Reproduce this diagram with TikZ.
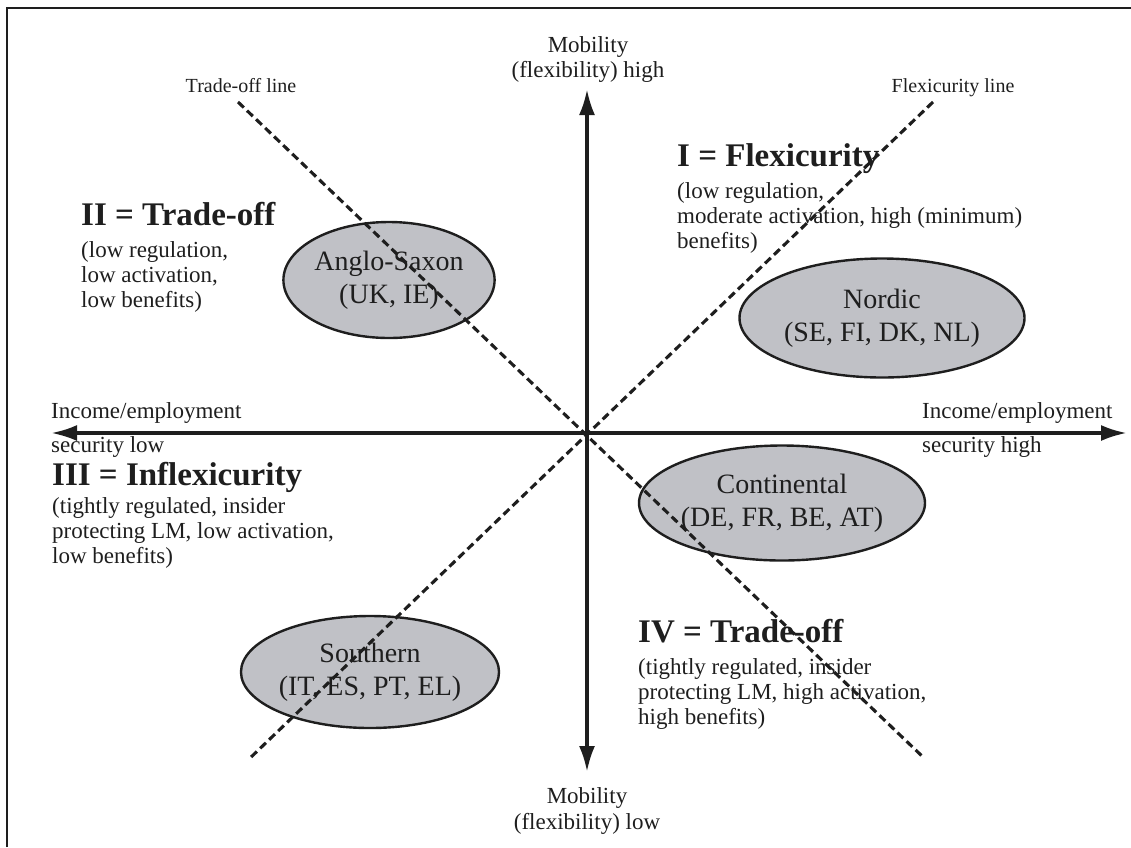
\documentclass[tikz,border=0pt]{standalone}
\usepackage{fontspec}
\setmainfont{Liberation Serif}
\usetikzlibrary{arrows.meta,shapes.geometric}
\definecolor{ellfill}{RGB}{192,193,198}
\definecolor{ink}{RGB}{30,30,30}
\begin{document}
\begin{tikzpicture}[x=1pt,y=-1pt,
  txt/.style={inner sep=0pt, font=\fontsize{23}{25}\selectfont, text=ink},
  small/.style={inner sep=0pt, font=\fontsize{20}{22}\selectfont, text=ink},
  head/.style={inner sep=0pt, font=\fontsize{33}{36}\selectfont\bfseries, text=ink},
  axis/.style={line width=3.6pt, draw=ink, {Latex[length=26pt,width=16pt]}-{Latex[length=26pt,width=16pt]}},
  guide/.style={line width=3.1pt, dash pattern=on 8pt off 4.5pt, draw=ink},
  cluster/.style={ellipse, draw=ink, line width=2.4pt, fill=ellfill, inner sep=0pt, align=center, font=\fontsize{28}{33}\selectfont, text=ink},
]
\useasboundingbox (0,0) rectangle (1131,847);
% frame
\coordinate (fa) at (7,847);
\coordinate (fb) at (7,8);
\coordinate (fc) at (1131,8);
\draw[line width=2pt, ink] (fa) -- (fb) -- (fc);

% clusters
\node[cluster, minimum width=190pt, minimum height=116pt] (anglo) at (389,280) {Anglo-Saxon\\(UK, IE)};
\node[cluster, minimum width=285pt, minimum height=119pt] (nordic) at (882,318) {Nordic\\(SE, FI, DK, NL)};
\node[cluster, minimum width=256pt, minimum height=115pt] (cont) at (782,503) {Continental\\(DE, FR, BE, AT)};
\node[cluster, minimum width=215pt, minimum height=112pt] (south) at (370,672) {Southern\\(IT, ES, PT, EL)};

% guide lines
\coordinate (O) at (587,433);
\coordinate (to1) at (238,102);
\coordinate (to2) at (923,757);
\coordinate (fx1) at (933,102);
\coordinate (fx2) at (248,760);
\draw[guide] (to1) -- (to2);
\draw[guide] (fx1) -- (fx2);

% axes
\coordinate (L) at (51,433);
\coordinate (R) at (1127,433);
\coordinate (T) at (587,89);
\coordinate (B) at (587,772);
\draw[axis] (L) -- (R);
\draw[axis] (B) -- (T);

% axis labels
\node[txt, anchor=base] (mh1) at (588,52) {Mobility};
\node[txt, anchor=base] (mh2) at (588,77) {(flexibility) high};
\node[txt, anchor=base] (ml1) at (587,803) {Mobility};
\node[txt, anchor=base] (ml2) at (587,829) {(flexibility) low};
\node[txt, anchor=base west] (sl1) at (51,418) {Income/employment};
\node[txt, anchor=base west] (sl2) at (51,452) {security low};
\node[txt, anchor=base west] (sh1) at (922,418) {Income/employment};
\node[txt, anchor=base west] (sh2) at (922,452) {security high};

% line labels
\node[small, anchor=base] (tol) at (241,92) {Trade-off line};
\node[small, anchor=base] (fxl) at (953,92) {Flexicurity line};

% quadrant I
\node[head, anchor=base west] (q1) at (677,166) {I = Flexicurity};
\node[txt, anchor=base west] (q1a) at (677,198) {(low regulation,};
\node[txt, anchor=base west] (q1b) at (677,223) {moderate activation, high (minimum)};
\node[txt, anchor=base west] (q1c) at (677,248) {benefits)};
% quadrant II
\node[head, anchor=base west] (q2) at (81,225) {II = Trade-off};
\node[txt, anchor=base west] (q2a) at (81,257) {(low regulation,};
\node[txt, anchor=base west] (q2b) at (81,282) {low activation,};
\node[txt, anchor=base west] (q2c) at (81,307) {low benefits)};
% quadrant III
\node[head, anchor=base west] (q3) at (52,485) {III = Inflexicurity};
\node[txt, anchor=base west] (q3a) at (52,513) {(tightly regulated, insider};
\node[txt, anchor=base west] (q3b) at (52,538) {protecting LM, low activation,};
\node[txt, anchor=base west] (q3c) at (52,563) {low benefits)};
% quadrant IV
\node[head, anchor=base west] (q4) at (638,642) {IV = Trade-off};
\node[txt, anchor=base west] (q4a) at (638,674) {(tightly regulated, insider};
\node[txt, anchor=base west] (q4b) at (638,699) {protecting LM, high activation,};
\node[txt, anchor=base west] (q4c) at (638,724) {high benefits)};
\end{tikzpicture}
\end{document}
